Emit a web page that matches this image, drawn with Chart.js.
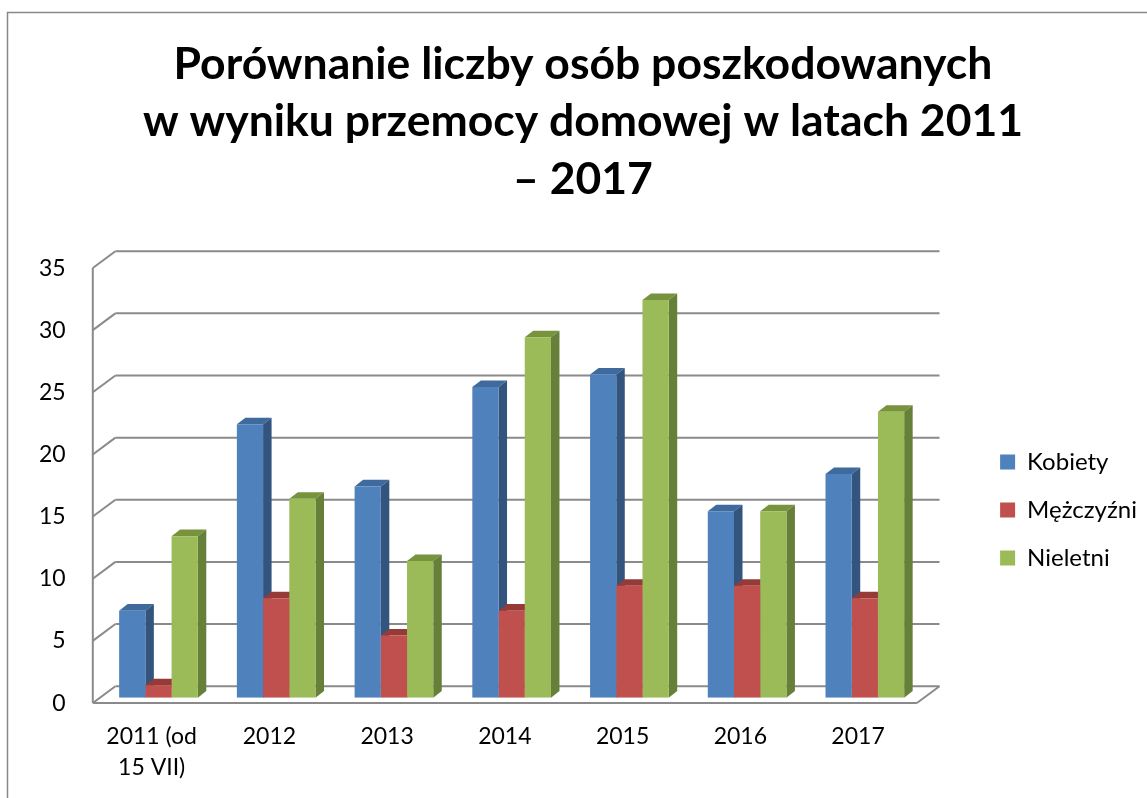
<!DOCTYPE html>
<html><head><meta charset="utf-8">
<script src="https://cdn.jsdelivr.net/npm/chart.js@4.4.1/dist/chart.umd.min.js"></script>
<style>html,body{margin:0;padding:0;background:#fff;overflow:hidden}#wrap{position:relative;width:1147px;height:798px}</style>
</head><body><div id="wrap"><canvas id="c" width="1147" height="798"></canvas></div>
<script>
// ---- data ----
const categories = [['2011 (od', '15 VII)'], '2012', '2013', '2014', '2015', '2016', '2017'];
const seriesNames = ['Kobiety', 'Mężczyźni', 'Nieletni'];
const kobiety = [7, 22, 17, 25, 26, 15, 18];
const mezczyzni = [1, 8, 5, 7, 9, 9, 8];
const nieletni = [13, 16, 11, 29, 32, 15, 23];
const yTicks = [0, 5, 10, 15, 20, 25, 30, 35];
const titleLines = ['Porównanie liczby osób poszkodowanych', 'w wyniku przemocy domowej w latach 2011', '– 2017'];

// ---- styles ----
const frontColors = ['#4F81BD', '#C0504D', '#9BBB59'];
const topColors = ['#3E6A9E', '#963A38', '#77933C'];
const sideColors = ['#33547D', '#893533', '#667F39'];
const FONT = 'Lato';
const FRONT = {dx: -6.8, dy: 5.3}, BACK = {dx: 15.8, dy: -11.5}, DEPTH = {dx: 8.5, dy: -6.6};
const AREA = {left: 99.6, right: 924.6, top: 262.7, bottom: 697.7};
const LEG_FONT = 24, LEG_PAD = 24, LEG_BOX = 15, LEG_BOX_X = 1001, LEG_ROW1 = 462;
const TICK_FONT = 23;
const TITLE_SIZE = 44.5, TITLE_LH = 57.8, TITLE_BASE1 = 81.5;

const mctx = document.createElement('canvas').getContext('2d');
mctx.font = LEG_FONT + 'px ' + FONT;
const maxW = Math.max(...seriesNames.map(s => mctx.measureText(s).width));
const LEG_LEFT = LEG_BOX_X - LEG_PAD;
const legendW = LEG_PAD + LEG_BOX + LEG_FONT / 2 + maxW + 10;
const R = Math.max(0, 1147 - LEG_LEFT - legendW);
const L = 19 + R;
const legTitleH = LEG_ROW1 - LEG_FONT / 2 - LEG_PAD;
const titlePadTop = TITLE_BASE1 - 0.387 * TITLE_SIZE - TITLE_LH / 2;

function line(ctx, x1, y1, x2, y2) { ctx.beginPath(); ctx.moveTo(x1, y1); ctx.lineTo(x2, y2); ctx.stroke(); }
function poly(ctx, pts, color) { ctx.beginPath(); ctx.moveTo(pts[0][0], pts[0][1]); for (let i = 1; i < pts.length; i++) ctx.lineTo(pts[i][0], pts[i][1]); ctx.closePath(); ctx.fillStyle = color; ctx.fill(); }

const threeD = {
  id: 'threeD',
  beforeDraw(chart) {
    const ctx = chart.ctx;
    ctx.save();
    ctx.fillStyle = '#fff'; ctx.fillRect(0, 0, chart.width, chart.height);
    ctx.strokeStyle = '#898989'; ctx.lineWidth = 1.5;
    ctx.beginPath(); ctx.moveTo(1147, 12.5); ctx.lineTo(7.5, 12.5); ctx.lineTo(7.5, 798); ctx.stroke();
    ctx.restore();
  },
  beforeDatasetsDraw(chart) {
    const {ctx, chartArea: a, scales: {y}} = chart;
    ctx.save();
    ctx.strokeStyle = '#8a8a8a'; ctx.lineWidth = 2;
    const fl = a.left + FRONT.dx, fr = a.right + FRONT.dx, bl = a.left + BACK.dx, br = a.right + BACK.dx;
    yTicks.forEach(v => {
      const p = y.getPixelForValue(v);
      line(ctx, fl, p + FRONT.dy, bl, p + BACK.dy);
      line(ctx, bl, p + BACK.dy, br, p + BACK.dy);
    });
    const p0 = y.getPixelForValue(0), pT = y.getPixelForValue(yTicks[yTicks.length - 1]);
    line(ctx, fl, p0 + FRONT.dy, fl, pT + FRONT.dy);
    line(ctx, fl, p0 + FRONT.dy, fr, p0 + FRONT.dy);
    line(ctx, fr, p0 + FRONT.dy, br, p0 + BACK.dy);
    chart.data.datasets.forEach((ds, i) => {
      const meta = chart.getDatasetMeta(i);
      meta.data.forEach(bar => {
        const {x, y: yt, base, width} = bar.getProps(['x', 'y', 'base', 'width'], true);
        const l = x - width / 2, r = x + width / 2;
        poly(ctx, [[l, yt], [r, yt], [r + DEPTH.dx, yt + DEPTH.dy], [l + DEPTH.dx, yt + DEPTH.dy]], topColors[i]);
        poly(ctx, [[r, yt], [r + DEPTH.dx, yt + DEPTH.dy], [r + DEPTH.dx, base + DEPTH.dy], [r, base]], sideColors[i]);
      });
    });
    ctx.restore();
  }
};

new Chart(document.getElementById('c'), {
  type: 'bar',
  data: {
    labels: categories,
    datasets: [
      {label: seriesNames[0], data: kobiety, backgroundColor: frontColors[0]},
      {label: seriesNames[1], data: mezczyzni, backgroundColor: frontColors[1]},
      {label: seriesNames[2], data: nieletni, backgroundColor: frontColors[2]}
    ]
  },
  options: {
    responsive: false, animation: false, devicePixelRatio: 1,
    datasets: {bar: {barPercentage: 1, categoryPercentage: 0.668, borderWidth: 0}},
    layout: {padding: {left: L, right: R, top: 0, bottom: 0}},
    plugins: {
      title: {display: true, text: titleLines, color: '#000',
        font: {family: FONT, weight: 'bold', size: TITLE_SIZE, lineHeight: TITLE_LH / TITLE_SIZE},
        padding: {top: titlePadTop, bottom: AREA.top - titlePadTop - 3 * TITLE_LH}},
      legend: {position: 'right', align: 'start',
        title: {display: true, text: ' ', font: {size: 10, lineHeight: 1}, padding: {top: legTitleH - 10, bottom: 0}},
        labels: {color: '#000', font: {family: FONT, size: LEG_FONT}, boxWidth: LEG_BOX, boxHeight: LEG_BOX, padding: LEG_PAD}},
      tooltip: {enabled: false}
    },
    scales: {
      x: {grid: {display: false, drawTicks: false}, border: {display: false},
        ticks: {color: '#000', font: {family: FONT, size: TICK_FONT, lineHeight: 31 / TICK_FONT}, padding: 737 - AREA.bottom - 15.5, labelOffset: FRONT.dx, maxRotation: 0, autoSkip: false},
        afterFit(s) { s.height = 798 - AREA.bottom; }},
      y: {min: 0, max: 35, grid: {display: false, drawTicks: false}, border: {display: false},
        ticks: {stepSize: 5, color: '#000', font: {family: FONT, size: TICK_FONT}, padding: AREA.left - 65.7, labelOffset: 5.5},
        afterFit(s) { s.width = AREA.left - L; }},
      yR: {position: 'right', display: true, grid: {display: false, drawTicks: false}, border: {display: false}, ticks: {display: false},
        afterFit(s) { s.width = LEG_LEFT - AREA.right; }}
    }
  },
  plugins: [threeD]
});
</script></body></html>
